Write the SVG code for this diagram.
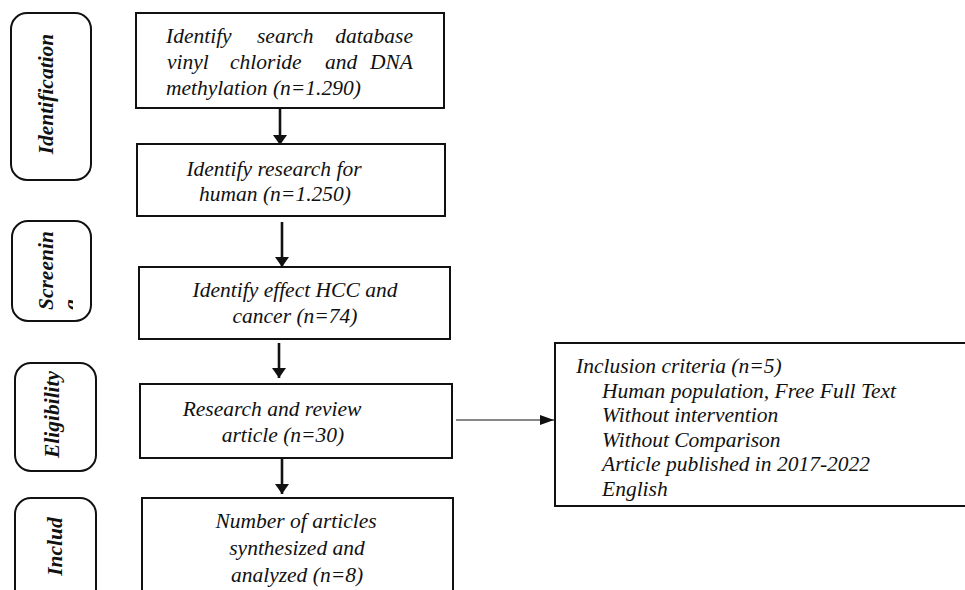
<svg xmlns="http://www.w3.org/2000/svg" width="965" height="590" viewBox="0 0 965 590">
<style>
.box{fill:#fff;stroke:#111;stroke-width:2}
.pill{fill:#fff;stroke:#111;stroke-width:2}
text{font-family:'Liberation Serif','Times New Roman',serif}
.t{font-style:italic;font-size:21.5px;fill:#111}
.c{text-anchor:middle}
.lab{font-style:italic;font-weight:bold;font-size:21.5px;fill:#111}
.va{stroke:#111;stroke-width:2.6;fill:none}
.ha{stroke:#111;stroke-width:1.2;fill:none}
</style>
<defs>
<marker id="ah" viewBox="0 0 10 10" refX="10" refY="5" markerUnits="userSpaceOnUse" markerWidth="10" markerHeight="14" orient="auto" preserveAspectRatio="none"><path d="M0,0 L10,5 L0,10 Z" fill="#111"/></marker>
<marker id="ahs" viewBox="0 0 10 10" refX="10" refY="5" markerUnits="userSpaceOnUse" markerWidth="14" markerHeight="10" orient="auto" preserveAspectRatio="none"><path d="M0,0 L10,5 L0,10 Z" fill="#111"/></marker>
<clipPath id="gclip"><rect x="60" y="222" width="13" height="98"/></clipPath>
</defs>

<g id="stage-identification">
<rect class="pill" x="11" y="13" width="80" height="167" rx="16"/>
<text class="lab" text-anchor="middle" transform="translate(53,94) rotate(-90)">Identification</text>
</g>
<g id="stage-screening">
<rect class="pill" x="12" y="221" width="79" height="100" rx="16"/>
<text class="lab" transform="translate(53,310) rotate(-90)">Screenin</text>
<g clip-path="url(#gclip)"><text class="lab" transform="translate(78,310) rotate(-90)">g</text></g>
</g>
<g id="stage-eligibility">
<rect class="pill" x="15" y="363" width="81" height="108" rx="16"/>
<text class="lab" text-anchor="middle" transform="translate(59,414.5) rotate(-90)">Eligibility</text>
</g>
<g id="stage-included">
<rect class="pill" x="15" y="498" width="81" height="120" rx="16"/>
<text class="lab" text-anchor="middle" transform="translate(62,546.5) rotate(-90)">Includ</text>
</g>

<g id="node-search">
<rect class="box" x="136" y="13" width="308" height="95"/>
<text class="t" y="43"><tspan x="166">Identify</tspan><tspan x="257">search</tspan><tspan x="413" text-anchor="end">database</tspan></text>
<text class="t" y="69"><tspan x="167">vinyl</tspan><tspan x="230">chloride</tspan><tspan x="325">and</tspan><tspan x="413" text-anchor="end">DNA</tspan></text>
<text class="t" x="166" y="95">methylation (n=1.290)</text>
</g>
<g id="node-human">
<rect class="box" x="137" y="144" width="308" height="72"/>
<text class="t c" x="274" y="176">Identify research for</text>
<text class="t c" x="275" y="201">human (n=1.250)</text>
</g>
<g id="node-hcc">
<rect class="box" x="139" y="267" width="311" height="72"/>
<text class="t c" x="295" y="297">Identify effect HCC and</text>
<text class="t c" x="295" y="323">cancer (n=74)</text>
</g>
<g id="node-review">
<rect class="box" x="140" y="384" width="312" height="74"/>
<text class="t c" x="272" y="416">Research and review</text>
<text class="t c" x="283" y="442">article (n=30)</text>
</g>
<g id="node-final">
<rect class="box" x="142" y="498" width="311" height="110"/>
<text class="t c" x="296" y="528">Number of articles</text>
<text class="t c" x="297" y="555">synthesized and</text>
<text class="t c" x="297" y="582">analyzed (n=8)</text>
</g>
<g id="node-criteria">
<rect class="box" x="555" y="343" width="420" height="163"/>
<text class="t" x="576" y="373">Inclusion criteria (n=5)</text>
<text class="t" x="602" y="397.5">Human population, Free Full Text</text>
<text class="t" x="602" y="422">Without intervention</text>
<text class="t" x="602" y="446.5">Without Comparison</text>
<text class="t" x="602" y="471">Article published in 2017-2022</text>
<text class="t" x="602" y="495.5">English</text>
</g>

<g id="connectors">
<line class="va" x1="280" y1="108" x2="280" y2="145" marker-end="url(#ah)"/>
<line class="va" x1="282" y1="222" x2="282" y2="267" marker-end="url(#ah)"/>
<line class="va" x1="279" y1="343" x2="279" y2="378" marker-end="url(#ah)"/>
<line class="va" x1="282" y1="458" x2="282" y2="494" marker-end="url(#ah)"/>
<line class="ha" x1="456" y1="420" x2="554" y2="420" marker-end="url(#ahs)"/>
</g>
</svg>
